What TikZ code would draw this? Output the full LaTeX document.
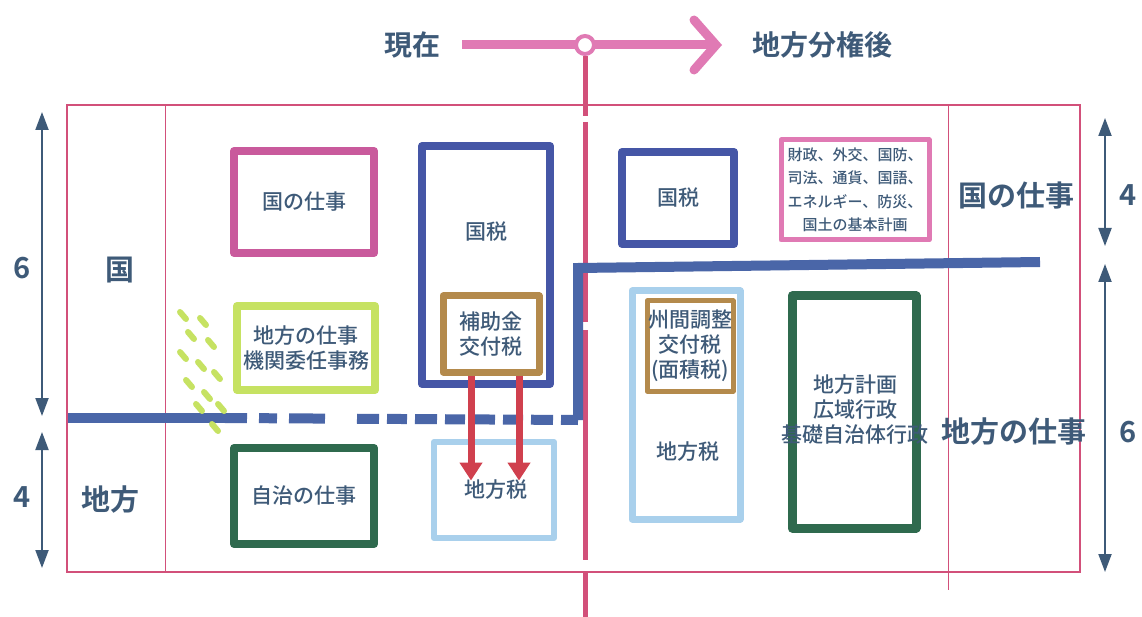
\documentclass[tikz,border=0pt]{standalone}
\usepackage{fontspec}
\setmainfont{Noto Sans CJK JP}[UprightFont=* Medium, BoldFont=* Bold]
\usetikzlibrary{arrows.meta}
\definecolor{txt}{HTML}{3E5A78}
\definecolor{pinkc}{HTML}{C95A9C}
\definecolor{framec}{HTML}{D2507A}
\definecolor{bluec}{HTML}{4556A6}
\definecolor{divc}{HTML}{4A66A8}
\definecolor{brownc}{HTML}{B48A4C}
\definecolor{lgreen}{HTML}{C6E262}
\definecolor{dgreen}{HTML}{2F6A4E}
\definecolor{lblue}{HTML}{A9D0EC}
\definecolor{redc}{HTML}{D0404E}
\definecolor{lpink}{HTML}{E07AB4}
\begin{document}
\begin{tikzpicture}[x=1pt,y=-1pt,
  every node/.style={text=txt, font=\fontsize{21}{25}\selectfont, align=center, inner sep=0pt},
  box/.style={draw=#1, line width=8pt, line join=round},
  big/.style={font=\fontsize{29}{33}\selectfont\bfseries},
  small/.style={font=\fontsize{15}{23.5}\selectfont},
  frame/.style={draw=framec, line width=1.6pt},
  dim/.style={draw=txt, line width=2pt},
  tip/.tip={Triangle[length=18pt,width=13pt]},
  redarrow/.style={draw=redc, line width=7pt, -{Triangle[length=18pt,width=22pt]}},
  divider/.style={draw=divc, line width=10pt}
]
\useasboundingbox (0,0) rectangle (1142,617);
\fill[white] (0,0) rectangle (1142,617);

% title
\node[big, font=\fontsize{28}{32}\selectfont\bfseries] (now) at (412,45) {現在};
\node[big, font=\fontsize{28}{32}\selectfont\bfseries] (after) at (822,45) {地方分権後};
\coordinate (arrS) at (462,45);
\coordinate (arrE) at (716,45);
\draw[draw=lpink, line width=9pt] (arrS) -- (arrE);
\draw[draw=lpink, line width=9pt, line cap=round, line join=miter] (694,20) -- (arrE) -- (694,70);
\node[draw=lpink, fill=white, line width=4pt, circle, minimum size=18pt] (hub) at (585,45) {};
\coordinate (cbot) at (585,617);
\draw[draw=framec, line width=5pt, dash pattern=on 60pt off 6pt on 200pt off 8pt on 230pt off 12pt on 60pt off 10pt] (hub.south) -- (cbot);

% frame
\draw[frame] (67,105) rectangle (1080,572);
\draw[draw=framec, line width=1pt] (165,105) -- (165,572);
\draw[draw=framec, line width=1pt] (948,105) -- (948,590);

% dimension arrows
\coordinate (la1) at (42,112); \coordinate (la2) at (42,416);
\coordinate (lb1) at (42,432); \coordinate (lb2) at (42,568);
\draw[dim, tip-tip] (la1) -- (la2);
\draw[dim, tip-tip] (lb1) -- (lb2);
\coordinate (ra1) at (1105,118); \coordinate (ra2) at (1105,246);
\coordinate (rb1) at (1105,264); \coordinate (rb2) at (1105,572);
\draw[dim, tip-tip] (ra1) -- (ra2);
\draw[dim, tip-tip] (rb1) -- (rb2);
\node[big] (n6l) at (22,268) {6};
\node[big] (n4l) at (22,497) {4};
\node[big] (n4r) at (1128,195) {4};
\node[big] (n6r) at (1128,432) {6};
\node[big] (kuniL) at (120,270) {国};
\node[big] (chihoL) at (110,500) {地方};
\node[big] (kuniR) at (1016,196) {国の仕事};
\node[big] (chihoR) at (1014,432) {地方の仕事};

% divider
\coordinate (d0) at (68,418);
\coordinate (d1) at (225,418);
\coordinate (d2) at (578,420);
\coordinate (d3) at (578,268);
\coordinate (d4) at (1040,262);
\draw[divider] (d0) -- (d1);
\draw[divider, dash pattern=on 22pt off 12pt on 18pt off 12pt on 36pt off 32pt on 22pt off 8pt on 20pt off 8pt on 22pt off 8pt on 20pt off 8pt on 22pt off 8pt on 20pt off 8pt on 22pt off 8pt on 40pt] (d1) -- (d2);
\draw[divider, line join=miter] (d2) -- (d3) -- (d4);

% left boxes
\node[box=pinkc, minimum width=140pt, minimum height=102pt] (kuniwork) at (304,202) {国の仕事};
\node[box=bluec, minimum width=128pt, minimum height=238pt] (kokuzei) at (486,265) {};
\node (kokuzeiT) at (486,232) {国税};
\node[box=brownc, line width=7pt, minimum width=96pt, minimum height=76pt, fill=white] (hojo) at (491,334) {補助金\\交付税};
\node[box=lgreen, minimum width=138pt, minimum height=84pt] (kikan) at (306,348) {地方の仕事\\機関委任事務};
\foreach \x/\y in {180/312,200/318,188/332,208/340,180/352,198/362,214/372,186/380,204/392,218/404,196/404,212/424}
  \draw[lgreen, line width=6pt, line cap=round] (\x,\y) -- (\x+6,\y+7);
\node[box=lblue, line width=6pt, minimum width=120pt, minimum height=96pt] (chihozeiL) at (494,490) {};
\node (chihozeiLT) at (496,490) {地方税};
\node[box=dgreen, minimum width=140pt, minimum height=96pt] (jichi) at (304,496) {自治の仕事};
\draw[redarrow] ([xshift=-20pt]hojo.south) -- ++(0,105) coordinate (ra);
\draw[redarrow] ([xshift=28pt]hojo.south) -- ++(0,105) coordinate (rb);

% right boxes
\node[box=bluec, minimum width=112pt, minimum height=92pt] (kokuzeiR) at (678,198) {国税};
\node[box=lpink, line width=5pt, minimum width=148pt, minimum height=100pt, fill=white, small] (kuniList) at (855,190) {財政、外交、国防、\\司法、通貨、国語、\\エネルギー、防災、\\国土の基本計画};
\node[box=lblue, line width=7pt, minimum width=108pt, minimum height=228pt] (chihozeiR) at (686,405) {};
\node[box=brownc, line width=5pt, minimum width=86pt, minimum height=90pt, fill=white] (shukan) at (690,346) {州間調整\\交付税\\(面積税)};
\node (chihozeiRT) at (688,452) {地方税};
\node[box=dgreen, line width=9pt, minimum width=124pt, minimum height=232pt] (chihoplan) at (854,412) {};
\node (chihoplanT) at (855,410) {地方計画\\広域行政\\基礎自治体行政};
\end{tikzpicture}
\end{document}
